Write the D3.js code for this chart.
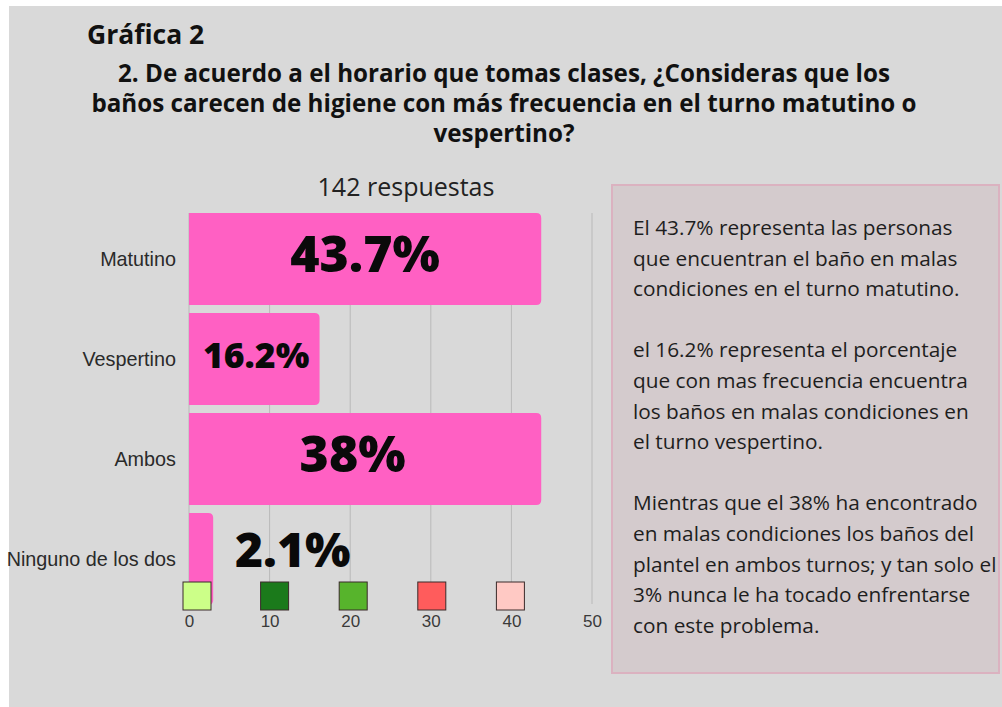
<!DOCTYPE html>
<html lang="es">
<head>
  <meta charset="UTF-8">
  <title>Gráfica 2</title>
  <script src="https://cdn.jsdelivr.net/npm/d3@7"></script>
  <style>
    body { margin: 0; background: #ffffff; }
  </style>
</head>
<body>
  <svg width="1002" height="707"></svg>
  <script>
    var categories = ["Matutino", "Vespertino", "Ambos", "Ninguno de los dos"];
    var barValues = [43.7, 16.2, 43.7, 3];
    var barLabels = ["43.7%", "16.2%", "38%", "2.1%"];
    var tickValues = [0, 10, 20, 30, 40, 50];
    var swatchColors = ["#ccff88", "#1b7a1b", "#57b42c", "#ff5c5c", "#ffc9c4"];
    var titleText = "Gráfica 2";
    var questionLines = [
      "2. De acuerdo a el horario que tomas clases, ¿Consideras que los",
      "baños carecen de higiene con más frecuencia en el turno matutino o",
      "vespertino?"
    ];
    var subtitleText = "142 respuestas";
    var panelLines = [
      "El 43.7%  representa las personas",
      "que encuentran el baño en malas",
      "condiciones en el turno matutino.",
      "",
      "el 16.2% representa el porcentaje",
      "que con mas frecuencia encuentra",
      "los baños en malas condiciones en",
      "el turno vespertino.",
      "",
      "Mientras que el 38% ha encontrado",
      "en malas condiciones los baños del",
      "plantel en ambos turnos; y tan solo el",
      "3% nunca le ha tocado enfrentarse",
      "con este problema."
    ];

    var svg = d3.select("svg")

    // page background
    svg.append("rect")
      .attr("x", 9).attr("y", 6)
      .attr("width", 993).attr("height", 701)
      .attr("fill", "#d9d9d9")

    var x = d3.scaleLinear().domain([0, 50]).range([189, 592])
    var y = d3.scaleBand().domain(categories).range([209, 609]).paddingInner(0.08).paddingOuter(0.04)

    // titles
    svg.append("text")
      .attr("x", 87).attr("y", 44)
      .attr("font-family", "Open Sans").attr("font-weight", "bold").attr("font-size", 26.5)
      .attr("fill", "#111")
      .text(titleText)

    svg.selectAll(".question")
      .data(questionLines)
      .enter()
      .append("text")
      .attr("class", "question")
      .attr("x", 504)
      .attr("y", (d, i) => 82 + i * 30)
      .attr("text-anchor", "middle")
      .attr("font-family", "Open Sans").attr("font-weight", "bold").attr("font-size", 24.2)
      .attr("fill", "#111")
      .text(d => d)

    svg.append("text")
      .attr("x", 406).attr("y", 196)
      .attr("text-anchor", "middle")
      .attr("font-family", "Open Sans").attr("font-size", 25)
      .attr("fill", "#222")
      .text(subtitleText)

    // gridlines
    svg.append("g")
      .selectAll("line")
      .data(tickValues)
      .enter()
      .append("line")
      .attr("x1", d => x(d)).attr("x2", d => x(d))
      .attr("y1", 213).attr("y2", 604)
      .attr("stroke", "#b9b9b9")
      .attr("stroke-width", 1)

    // bars, rounded on the right
    function barPath(d, i) {
      var x0 = x(0), x1 = x(d), y0 = y(categories[i]), h = y.bandwidth(), r = 5
      return "M" + x0 + "," + y0 + "H" + (x1 - r) + "Q" + x1 + "," + y0 + " " + x1 + "," + (y0 + r) +
        "V" + (y0 + h - r) + "Q" + x1 + "," + (y0 + h) + " " + (x1 - r) + "," + (y0 + h) + "H" + x0 + "Z"
    }
    svg.append("g")
      .selectAll("path")
      .data(barValues)
      .enter()
      .append("path")
      .attr("d", barPath)
      .attr("fill", "#ff60c3")

    // category labels
    svg.append("g")
      .selectAll("text")
      .data(categories)
      .enter()
      .append("text")
      .attr("x", x(0) - 13)
      .attr("y", d => y(d) + y.bandwidth() / 2 + 7)
      .attr("text-anchor", "end")
      .attr("font-family", "Liberation Sans").attr("font-size", 19.8)
      .attr("fill", "#2a2a2a")
      .text(d => d)

    // big value labels
    var labelSize = [50, 35.5, 50, 48]
    svg.append("g")
      .selectAll("text")
      .data(barLabels)
      .enter()
      .append("text")
      .attr("x", (d, i) => i == 0 ? x(barValues[i] / 2) : i == 1 ? x(0) + 14 : i == 2 ? x(20.3) : x(5.7))
      .attr("y", (d, i) => y(categories[i]) + y.bandwidth() / 2 + (i == 1 ? 9 : i == 3 ? 8 : 13))
      .attr("text-anchor", (d, i) => (i == 0 || i == 2) ? "middle" : "start")
      .attr("font-family", "Open Sans").attr("font-weight", 800)
      .attr("font-size", (d, i) => labelSize[i])
      .attr("fill", "#0a0a0a")
      .text(d => d)

    // coloured squares above the ticks
    svg.append("g")
      .selectAll("rect")
      .data(swatchColors)
      .enter()
      .append("rect")
      .attr("x", (d, i) => x(tickValues[i]) - (i == 0 ? 6 : 7 + 2 * i))
      .attr("y", 582)
      .attr("width", 28).attr("height", 28)
      .attr("fill", d => d)
      .attr("stroke", "#3a2a2a")
      .attr("stroke-width", 1)

    // x axis tick labels
    svg.append("g")
      .attr("transform", "translate(0,615)")
      .call(d3.axisBottom(x).tickValues(tickValues).tickSize(0).tickPadding(0))
      .call(g => g.select(".domain").remove())
      .selectAll("text")
      .attr("font-family", "Liberation Sans").attr("font-size", 17)
      .attr("fill", "#3a3a3a")

    // text panel on the right
    svg.append("rect")
      .attr("x", 612).attr("y", 185)
      .attr("width", 387).attr("height", 488)
      .attr("fill", "#d4cbcd")
      .attr("stroke", "#dbb2c0")
      .attr("stroke-width", 2)

    svg.append("g")
      .selectAll("text")
      .data(panelLines)
      .enter()
      .append("text")
      .attr("x", 633)
      .attr("y", (d, i) => 235 + i * 30.6)
      .attr("font-family", "Open Sans").attr("font-size", 20.8)
      .attr("fill", "#1e1e1e")
      .text(d => d)
  </script>
</body>
</html>
